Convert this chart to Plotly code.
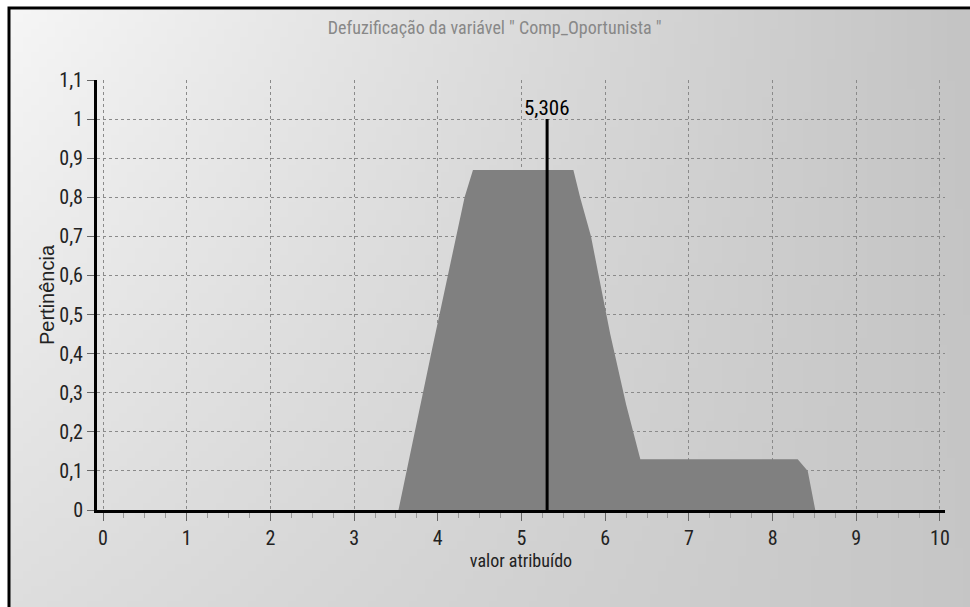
import base64
import struct
import zlib

import plotly.graph_objects as go

# membership curve (aggregated output set)
x_vals = [3.53, 3.93, 4.32, 4.42, 5.62, 5.70, 5.83, 6.06, 6.25, 6.42, 8.30, 8.42, 8.51]
mu_vals = [0.0, 0.41, 0.80, 0.87, 0.87, 0.80, 0.70, 0.45, 0.27, 0.13, 0.13, 0.10, 0.0]

defuzz_value = 5.306
x_ticks = list(range(0, 11))
y_ticks = [round(i * 0.1, 1) for i in range(0, 12)]

TITLE = 'Defuzificação da variável " Comp_Oportunista "'
FONT = "Liberation Sans Narrow, Arial Narrow, Roboto Condensed, DejaVu Sans Condensed, Liberation Sans, sans-serif"


def gradient_png(w=120, h=80):
    # light top-left -> darker grey to the right / bottom
    rows = b""
    for j in range(h):
        v = j / (h - 1)
        row = b"\x00"
        for i in range(w):
            u = i / (w - 1)
            c = int(246 - 50 * u - 24 * v + 26 * u * v)
            row += bytes((c, c, c))
        rows += row

    def chunk(tag, data):
        out = struct.pack(">I", len(data)) + tag + data
        return out + struct.pack(">I", zlib.crc32(tag + data) & 0xFFFFFFFF)

    png = b"\x89PNG\r\n\x1a\n"
    png += chunk(b"IHDR", struct.pack(">IIBBBBB", w, h, 8, 2, 0, 0, 0))
    png += chunk(b"IDAT", zlib.compress(rows))
    png += chunk(b"IEND", b"")
    return "data:image/png;base64," + base64.b64encode(png).decode()


fig = go.Figure()

fig.add_trace(go.Scatter(
    x=x_vals, y=mu_vals,
    mode="lines",
    fill="toself",
    fillcolor="#808080",
    line=dict(width=0, color="#808080"),
    showlegend=False,
    hoverinfo="skip",
))

# defuzzified value
fig.add_trace(go.Scatter(
    x=[defuzz_value, defuzz_value], y=[0, 1],
    mode="lines",
    line=dict(color="black", width=3),
    showlegend=False,
))
fig.add_annotation(
    x=defuzz_value, y=1,
    text=f"{defuzz_value:.3f}".replace(".", ","),
    showarrow=False,
    yanchor="bottom",
    yshift=-3,
    font=dict(family=FONT, size=21, color="black"),
)

# plot area: x 0 -> px 103, 10 -> px 940 ; y 0 -> px 510, 1.1 -> px 80
W, H = 970, 607
L, R, T, B = 97, 25, 80, 97
pw, ph = W - L - R, H - T - B


def px(xp):
    return (xp - L) / pw


def py(yp):
    return (H - B - yp) / ph


fig.add_layout_image(dict(
    source=gradient_png(),
    xref="paper", yref="paper",
    x=px(10), y=py(10),
    sizex=px(W + 5) - px(10), sizey=py(10) - py(H + 5),
    sizing="stretch",
    xanchor="left", yanchor="top",
    layer="below",
))

# outer black frame
fig.add_shape(
    type="rect", xref="paper", yref="paper",
    x0=px(9), x1=px(W + 20), y0=py(H + 20), y1=py(8),
    line=dict(color="black", width=3),
    fillcolor="rgba(0,0,0,0)",
    layer="below",
)

fig.update_layout(
    width=W, height=H,
    margin=dict(l=L, r=R, t=T, b=B),
    paper_bgcolor="white",
    plot_bgcolor="rgba(0,0,0,0)",
    separators=",.",
    font=dict(family=FONT, size=16, color="#222222"),
    title=dict(
        text=TITLE,
        x=0.51, xanchor="center",
        y=1 - 28 / H, yanchor="middle",
        font=dict(family=FONT, size=18, color="#888888"),
    ),
    xaxis=dict(
        range=[-0.072, 10.06],
        tickvals=x_ticks,
        showgrid=True,
        gridcolor="#8a8a8a",
        griddash="3px,3px",
        gridwidth=1,
        zeroline=False,
        showline=True,
        linecolor="black",
        linewidth=3,
        ticks="outside",
        ticklen=8,
        tickcolor="#666666",
        minor=dict(dtick=0.25, ticks="outside", ticklen=5, tickcolor="#999999", showgrid=False),
        tickfont=dict(family=FONT, size=20, color="#222222"),
        title=dict(text="valor atribuído", font=dict(family=FONT, size=18, color="#222222"), standoff=5),
    ),
    yaxis=dict(
        range=[0, 1.1],
        tickvals=y_ticks,
        showgrid=True,
        gridcolor="#8a8a8a",
        griddash="3px,3px",
        gridwidth=1,
        zeroline=False,
        showline=True,
        linecolor="black",
        linewidth=3,
        ticks="outside",
        ticklen=7,
        tickcolor="#666666",
        tickfont=dict(family=FONT, size=20, color="#222222"),
        title=dict(text="Pertinência",
                   font=dict(family="Liberation Sans, Arial, sans-serif", size=20, color="#222222"),
                   standoff=0),
    ),
)

fig.write_html(
    "out.html",
    config={"displayModeBar": False},
    post_script="document.body.style.margin='0px';",
)
